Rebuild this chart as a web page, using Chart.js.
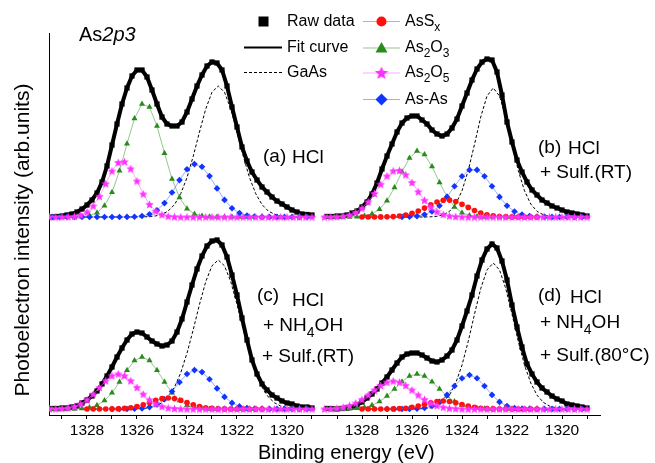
<!DOCTYPE html>
<html>
<head>
<meta charset="utf-8">
<script src="https://cdn.jsdelivr.net/npm/chart.js@4.4.1/dist/chart.umd.min.js"></script>
<style>
  html, body { margin: 0; padding: 0; background: #fff; }
  canvas { display: block; }
</style>
</head>
<body>
<canvas id="xps" width="655" height="463"></canvas>
<script>
// ---- Binding-energy sampling grids (eV) ----
const energyRaw = [1329.4,1329.2,1329.0,1328.8,1328.6,1328.4,1328.2,1328.0,1327.8,1327.6,1327.4,1327.2,1327.0,1326.8,1326.6,1326.4,1326.2,1326.0,1325.8,1325.6,1325.4,1325.2,1325.0,1324.8,1324.6,1324.4,1324.2,1324.0,1323.8,1323.6,1323.4,1323.2,1323.0,1322.8,1322.6,1322.4,1322.2,1322.0,1321.8,1321.6,1321.4,1321.2,1321.0,1320.8,1320.6,1320.4,1320.2,1320.0,1319.8,1319.6,1319.4,1319.2,1319.0];
const energyQuarter = [1329.5,1329.25,1329.0,1328.75,1328.5,1328.25,1328.0,1327.75,1327.5,1327.25,1327.0,1326.75,1326.5,1326.25,1326.0,1325.75,1325.5,1325.25,1325.0,1324.75,1324.5,1324.25,1324.0,1323.75,1323.5,1323.25,1323.0,1322.75,1322.5,1322.25,1322.0,1321.75,1321.5,1321.25,1321.0,1320.75,1320.5,1320.25,1320.0,1319.75,1319.5,1319.25,1319.0];
const energyCoarse = [1329.4,1329.1,1328.8,1328.5,1328.2,1327.9,1327.6,1327.3,1327.0,1326.7,1326.4,1326.1,1325.8,1325.5,1325.2,1324.9,1324.6,1324.3,1324.0,1323.7,1323.4,1323.1,1322.8,1322.5,1322.2,1321.9,1321.6,1321.3,1321.0,1320.7,1320.4,1320.1,1319.8,1319.5,1319.2];
const energySulfide = [1328.0,1327.75,1327.5,1327.25,1327.0,1326.75,1326.5,1326.25,1326.0,1325.75,1325.5,1325.25,1325.0,1324.75,1324.5,1324.25,1324.0,1323.75,1323.5,1323.25,1323.0,1322.75,1322.5,1322.25,1322.0,1321.75,1321.5,1321.25,1321.0];

// ---- Axis tick labels (eV) ----
const tickLabels = [1328, 1326, 1324, 1322, 1320];
const minorTicks = [1329, 1328, 1327, 1326, 1325, 1324, 1323, 1322, 1321, 1320, 1319];

// ---- Intensities (arb. units above each spectrum's baseline) ----
// (a) HCl
const rawA = [0,0.5,1,2,3,5,8,12,17,24,35,51,72,93,113,129,141,147,147,140,127,113,100,93,91,91,95,105,118,131,142,151,155,154,147,131,110,90,70,56,45,37,30,25,20,16,13,10,7,5,3,2.5,2];
const gaasA = [0,0,0,0,0,0,0,0,0,0,0,0,0,0,0,0.1,0.4,1.1,2.7,6.0,12.4,23.3,39.4,60.8,85.0,108.1,124.8,131,124.8,108.1,85.0,60.8,39.4,23.3,12.4,6.0,2.7,1.1,0.4,0.1,0,0,0];
const as2o5A = [0,0,0.1,0.2,0.7,2.0,5.0,11.0,20.7,33.3,46.0,54.5,55.3,48.2,36.0,23.0,12.6,5.9,2.4,0.8,0.2,0,0,0,0,0,0,0,0,0,0,0,0,0,0,0,0,0,0,0,0,0,0];
const as2o3A = [0,0,0,0.1,0.4,1.4,4.3,11.3,24.7,46.2,73.2,98.6,113,109.9,90.9,63.8,38.1,19.4,8.3,3.1,0.9,0.3,0,0,0,0,0,0,0,0,0,0,0,0,0];
const asAsA = [0,0,0,0,0,0,0,0,0,0,0.1,0.3,1.0,2.8,6.8,13.9,24.5,36.9,47.7,52.9,50.2,40.9,28.6,17.1,8.7,3.9,1.4,0.5,0.1,0,0,0,0,0,0];

// (b) HCl + Sulf.(RT)
const rawB = [0.5,0.5,1,1,2,4,6,10,15,23,34,48,61,73,85,94,99,101,101,97,93,87,83,81,83,89,98,111,124,137,148,155,158,157,145,122,95,75,57,45,35,27,22,17,14,11,9,7,5,4,3,2,1];
const gaasB = [0,0,0,0,0,0,0,0,0,0,0,0,0,0,0,0,0,0.2,0.7,2.2,5.7,13.0,26.2,46.6,72.6,100.0,121.0,129,121.0,100.0,72.6,46.6,26.2,13.0,5.7,2.2,0.7,0.2,0,0,0,0,0];
const asSxB = [0,0,0,0.1,0.2,0.4,1.0,2.0,3.6,6.0,8.9,12.2,15.0,16.7,16.9,15.4,12.8,9.6,6.5,4.0,2.2,1.1,0.5,0.2,0.1,0,0,0,0];
const as2o5B = [0,0.1,0.3,0.9,2.1,4.6,8.8,15.1,23.5,32.8,41.0,46.1,46.6,42.3,34.5,25.3,16.7,9.9,5.3,2.5,1.1,0.4,0.1,0,0,0,0,0,0,0,0,0,0,0,0,0,0,0,0,0,0,0,0];
const as2o3B = [0,0,0,0.1,0.3,1.1,3.1,7.7,16.3,29.4,45.3,59.1,65.9,62.4,50.4,34.6,20.3,10.1,4.3,1.5,0.5,0.1,0,0,0,0,0,0,0,0,0,0,0,0,0];
const asAsB = [null,null,null,null,null,null,null,null,null,null,0.1,0.3,0.9,2.4,5.5,11.3,20.1,30.7,40.8,47.1,47.1,40.8,30.7,20.1,11.3,5.5,2.4,0.9,0.3,0.1,0,0,0,0,0];

// (c) HCl + NH4OH + Sulf.(RT)
const rawC = [0.5,0.5,1,1,2,3,6,9,13,18,25,33,42,52,61,69,75,77,76,72,68,65,63,64,68,77,90,107,124,140,153,163,168,169,164,152,134,114,91,69,49,35,25,19,14,11,8,6,5,3,2,2,1];
const gaasC = [0,0,0,0,0,0,0,0,0,0,0,0,0,0,0.2,0.5,1.3,2.9,6.2,12.1,21.8,36.2,55.9,79.4,104.6,127.4,143.2,149,143.2,127.4,104.6,79.4,55.9,36.2,21.8,12.1,6.2,2.9,1.3,0.5,0.2,0,0];
const asSxC = [0,0,0,0,0.1,0.2,0.6,1.3,2.5,4.2,6.4,8.7,10.4,11,10.4,8.7,6.4,4.2,2.5,1.3,0.6,0.2,0.1,0,0,0,0,0,0];
const as2o5C = [0.1,0.2,0.5,1.1,2.6,5.1,9.2,14.9,21.6,28.3,33.2,35,33.2,28.3,21.6,14.9,9.2,5.1,2.6,1.1,0.5,0.2,0.1,0,0,0,0,0,0,0,0,0,0,0,0,0,0,0,0,0,0,0,0];
const as2o3C = [0,0,0,0.1,0.5,1.4,3.8,8.4,16.2,27.0,38.8,48.4,52,48.4,38.8,27.0,16.2,8.4,3.8,1.4,0.5,0.1,0,0,0,0,0,0,0,0,0,0,0,0,0];
const asAsC = [null,null,null,null,null,null,null,null,0,0,0,0.2,0.6,1.9,4.6,9.8,17.5,26.8,35.0,38.9,36.9,29.8,20.6,12.1,6.1,2.6,0.9,0.3,0.1,0,0,0,0,0,0];

// (d) HCl + NH4OH + Sulf.(80°C)
const rawD = [0.5,0.3,0,0.5,1,2,4,7,11,15,20,26,32,39,46,52,55,56,56,54,51,48,47,49,53,59,69,83,98,114,133,149,160,165,161,148,129,104,82,62,45,35,27,21,17,13,10,8,5,4,3,2,1];
const gaasD = [0,0,0,0,0,0,0,0,0,0,0,0,0,0,0,0.1,0.4,1.2,3.0,6.7,13.9,26.0,43.9,67.7,94.8,120.5,139.1,146,139.1,120.5,94.8,67.7,43.9,26.0,13.9,6.7,3.0,1.2,0.4,0.1,0,0,0];
const asSxD = [0,0,0,0,0,0.1,0.4,0.8,1.7,2.9,4.5,6.2,7.5,8,7.5,6.2,4.5,2.9,1.7,0.8,0.4,0.1,0,0,0,0,0,0,0];
const as2o5D = [0.1,0.4,0.8,1.8,3.4,5.9,9.5,14.0,19.0,23.5,26.8,28,26.8,23.5,19.0,14.0,9.5,5.9,3.4,1.8,0.8,0.4,0.1,0,0,0,0,0,0,0,0,0,0,0,0,0,0,0,0,0,0,0,0];
const as2o3D = [0,0,0.1,0.2,0.7,1.6,3.7,7.4,12.9,20.0,27.3,32.9,35,32.9,27.3,20.0,12.9,7.4,3.7,1.6,0.7,0.2,0.1,0,0,0,0,0,0,0,0,0,0,0,0];
const asAsD = [null,null,null,null,null,null,null,null,0,0,0,0.1,0.3,1.0,3.0,7.1,14.1,23.0,30.8,34,30.8,23.0,14.1,7.1,3.0,1.0,0.3,0.1,0,0,0,0,0,0,0];

// ---- Layout of the four spectra on one shared frame ----
const COLUMN_SHIFT = 11;          // eV offset of the right-hand column
const X_MAX = 1329.52, X_MIN = 1307.48;
const Y_MAX = 382;
const panels = [
  { col: 0, base: 198, raw: rawA, gaas: gaasA, asSx: null,  as2o5: as2o5A, as2o3: as2o3A, asAs: asAsA },
  { col: 1, base: 198, raw: rawB, gaas: gaasB, asSx: asSxB, as2o5: as2o5B, as2o3: as2o3B, asAs: asAsB },
  { col: 0, base: 6,   raw: rawC, gaas: gaasC, asSx: asSxC, as2o5: as2o5C, as2o3: as2o3C, asAs: asAsC },
  { col: 1, base: 6,   raw: rawD, gaas: gaasD, asSx: asSxD, as2o5: as2o5D, as2o3: as2o3D, asAs: asAsD }
];

const FONT = '"Liberation Sans", Arial, Helvetica, sans-serif';
const COLORS = {
  red: '#ff1010', redLine: 'rgba(255,90,90,0.65)',
  green: '#2b8a1e', greenLine: 'rgba(80,160,70,0.6)',
  magenta: '#ff30ff', magentaLine: 'rgba(255,110,255,0.6)',
  blue: '#1234ff', blueLine: 'rgba(80,120,255,0.6)'
};

function starImage(size, color) {
  const c = document.createElement('canvas');
  c.width = c.height = size;
  const g = c.getContext('2d');
  g.fillStyle = color;
  g.beginPath();
  const r0 = size / 2, r1 = r0 * 0.45;
  for (let k = 0; k < 10; k++) {
    const r = k % 2 ? r1 : r0;
    const a = -Math.PI / 2 + k * Math.PI / 5;
    g.lineTo(r0 + r * Math.cos(a), r0 + r * Math.sin(a) + 0.4);
  }
  g.closePath();
  g.fill();
  return c;
}
const starPoint = starImage(9, COLORS.magenta);

function points(energies, values, panel) {
  const shift = panel.col === 1 ? COLUMN_SHIFT : 0;
  return energies.map((e, i) => ({
    x: e - shift,
    y: values[i] === null ? null : panel.base + values[i]
  }));
}

// first dataset is painted last (on top)
const datasets = [];
panels.forEach(p => {
  datasets.push({ label: 'As2O5', data: points(energyQuarter, p.as2o5, p), showLine: true,
    borderColor: COLORS.magentaLine, borderWidth: 1, pointStyle: starPoint, pointRadius: 4 });
  if (p.asSx) datasets.push({ label: 'AsSx', data: points(energySulfide, p.asSx, p), showLine: true,
    borderColor: COLORS.redLine, borderWidth: 1, pointStyle: 'circle', pointRadius: 2.8,
    pointBackgroundColor: COLORS.red, pointBorderColor: COLORS.red, pointBorderWidth: 0 });
  datasets.push({ label: 'As-As', data: points(energyCoarse, p.asAs, p), showLine: true,
    borderColor: COLORS.blueLine, borderWidth: 1, pointStyle: 'rectRot', pointRadius: 3.3,
    pointBackgroundColor: COLORS.blue, pointBorderColor: COLORS.blue, pointBorderWidth: 0 });
  datasets.push({ label: 'As2O3', data: points(energyCoarse, p.as2o3, p), showLine: true,
    borderColor: COLORS.greenLine, borderWidth: 1, pointStyle: 'triangle', pointRadius: 3.5,
    pointBackgroundColor: COLORS.green, pointBorderColor: COLORS.green, pointBorderWidth: 0 });
  datasets.push({ label: 'GaAs', data: points(energyQuarter, p.gaas, p), showLine: true,
    borderColor: '#000', borderWidth: 1, borderDash: [3, 2], pointRadius: 0 });
  datasets.push({ label: 'Fit curve', data: points(energyRaw, p.raw, p), showLine: true,
    borderColor: '#000', borderWidth: 4, pointRadius: 0 });
  datasets.push({ label: 'Raw data', data: points(energyRaw, p.raw, p), showLine: false,
    pointStyle: 'rect', pointRadius: 3.7, pointBackgroundColor: '#000', pointBorderWidth: 0 });
});

// ---- Text, legend and axis titles ----
function drawRuns(ctx, x, y, parts, size) {
  let cx = x;
  for (const p of parts) {
    const s = p.sub ? Math.round(size * 0.75) : size;
    ctx.font = (p.italic ? 'italic ' : '') + s + 'px ' + FONT;
    ctx.fillText(p.t, cx, y + (p.sub ? size * 0.38 : 0));
    cx += ctx.measureText(p.t).width;
  }
}

const overlay = {
  id: 'overlay',
  afterDraw(chart) {
    const ctx = chart.ctx;
    ctx.save();
    ctx.fillStyle = '#000';
    ctx.textBaseline = 'middle';
    ctx.textAlign = 'left';

    // title of the spectra
    drawRuns(ctx, 79, 35, [{ t: 'As' }, { t: '2p3', italic: true }], 20);

    // legend, first column
    ctx.fillRect(258.5, 16.5, 10, 10);
    ctx.strokeStyle = '#000';
    ctx.lineWidth = 2;
    ctx.beginPath(); ctx.moveTo(244, 47.5); ctx.lineTo(282, 47.5); ctx.stroke();
    ctx.lineWidth = 1;
    ctx.setLineDash([3, 2]);
    ctx.beginPath(); ctx.moveTo(244, 72.5); ctx.lineTo(282, 72.5); ctx.stroke();
    ctx.setLineDash([]);
    drawRuns(ctx, 287, 21.5, [{ t: 'Raw data' }], 16);
    drawRuns(ctx, 287, 47.5, [{ t: 'Fit curve' }], 16);
    drawRuns(ctx, 287, 72.5, [{ t: 'GaAs' }], 16);

    // legend, second column
    const mx = 381.5;
    const rows = [
      { y: 21.5, line: COLORS.redLine, text: [{ t: 'AsS' }, { t: 'x', sub: true }] },
      { y: 48, line: COLORS.greenLine, text: [{ t: 'As' }, { t: '2', sub: true }, { t: 'O' }, { t: '3', sub: true }] },
      { y: 73, line: COLORS.magentaLine, text: [{ t: 'As' }, { t: '2', sub: true }, { t: 'O' }, { t: '5', sub: true }] },
      { y: 99.5, line: COLORS.blueLine, text: [{ t: 'As-As' }] }
    ];
    rows.forEach((r, i) => {
      ctx.strokeStyle = r.line;
      ctx.lineWidth = 1.2;
      ctx.beginPath(); ctx.moveTo(363, r.y); ctx.lineTo(400, r.y); ctx.stroke();
      ctx.beginPath();
      if (i === 0) {
        ctx.fillStyle = COLORS.red;
        ctx.arc(mx, r.y, 5, 0, Math.PI * 2);
        ctx.fill();
      } else if (i === 1) {
        ctx.fillStyle = COLORS.green;
        ctx.moveTo(mx, r.y - 6); ctx.lineTo(mx + 6, r.y + 4.5); ctx.lineTo(mx - 6, r.y + 4.5);
        ctx.closePath(); ctx.fill();
      } else if (i === 2) {
        ctx.drawImage(starImage(14, COLORS.magenta), mx - 7, r.y - 7);
      } else {
        ctx.fillStyle = COLORS.blue;
        ctx.moveTo(mx, r.y - 6); ctx.lineTo(mx + 6, r.y); ctx.lineTo(mx, r.y + 6); ctx.lineTo(mx - 6, r.y);
        ctx.closePath(); ctx.fill();
      }
      ctx.fillStyle = '#000';
      drawRuns(ctx, 405, r.y, r.text, 16);
    });

    // treatment labels
    const L = 19;
    drawRuns(ctx, 263, 157, [{ t: '(a)' }], L);
    drawRuns(ctx, 292, 158, [{ t: 'HCl' }], L);
    drawRuns(ctx, 538, 148, [{ t: '(b)' }], L);
    drawRuns(ctx, 568, 149, [{ t: 'HCl' }], L);
    drawRuns(ctx, 540, 173, [{ t: '+ Sulf.(RT)' }], L);
    drawRuns(ctx, 257, 296, [{ t: '(c)' }], L);
    drawRuns(ctx, 292, 301, [{ t: 'HCl' }], L);
    drawRuns(ctx, 263, 326, [{ t: '+ NH' }, { t: '4', sub: true }, { t: 'OH' }], L);
    drawRuns(ctx, 262, 357, [{ t: '+ Sulf.(RT)' }], L);
    drawRuns(ctx, 538, 296, [{ t: '(d)' }], L);
    drawRuns(ctx, 570, 298, [{ t: 'HCl' }], L);
    drawRuns(ctx, 540, 323, [{ t: '+ NH' }, { t: '4', sub: true }, { t: 'OH' }], L);
    drawRuns(ctx, 540, 356, [{ t: '+ Sulf.(80°C)' }], L);

    // axis titles
    ctx.textBaseline = 'alphabetic';
    ctx.font = '20px ' + FONT;
    ctx.fillText('Binding energy (eV)', 258, 459);
    ctx.translate(29, 240);
    ctx.rotate(-Math.PI / 2);
    ctx.textAlign = 'center';
    ctx.font = '21px ' + FONT;
    ctx.fillText('Photoelectron intensity (arb.units)', 0, 0);
    ctx.restore();
  }
};

// tick positions on the shared frame: left column as is, right column shifted
const tickPositions = minorTicks.concat(minorTicks.map(v => v - COLUMN_SHIFT));

new Chart(document.getElementById('xps'), {
  type: 'scatter',
  data: { datasets },
  options: {
    responsive: false,
    animation: false,
    events: [],
    layout: { padding: { left: 49, right: 55, top: 33, bottom: 0 } },
    plugins: { legend: { display: false }, tooltip: { enabled: false } },
    scales: {
      x: {
        type: 'linear', reverse: true, min: X_MIN, max: X_MAX,
        afterBuildTicks: s => { s.ticks = tickPositions.map(v => ({ value: v })); },
        afterFit: s => { s.height = 48; },
        ticks: {
          autoSkip: false, maxRotation: 0, padding: 2, color: '#000',
          font: { family: FONT, size: 15.5 },
          callback: v => {
            const e = v > 1318.5 ? v : v + COLUMN_SHIFT;
            return tickLabels.includes(e) ? String(e) : '';
          }
        },
        grid: { display: true, drawOnChartArea: false, drawTicks: true, tickLength: 4, color: '#000', lineWidth: 1 },
        border: { display: true, color: '#000', width: 1 }
      },
      y: {
        type: 'linear', min: 0, max: Y_MAX,
        afterFit: s => { s.width = 0; },
        ticks: { display: false },
        grid: { display: false },
        border: { display: true, color: '#000', width: 1 }
      }
    }
  },
  plugins: [overlay]
});
</script>
</body>
</html>
